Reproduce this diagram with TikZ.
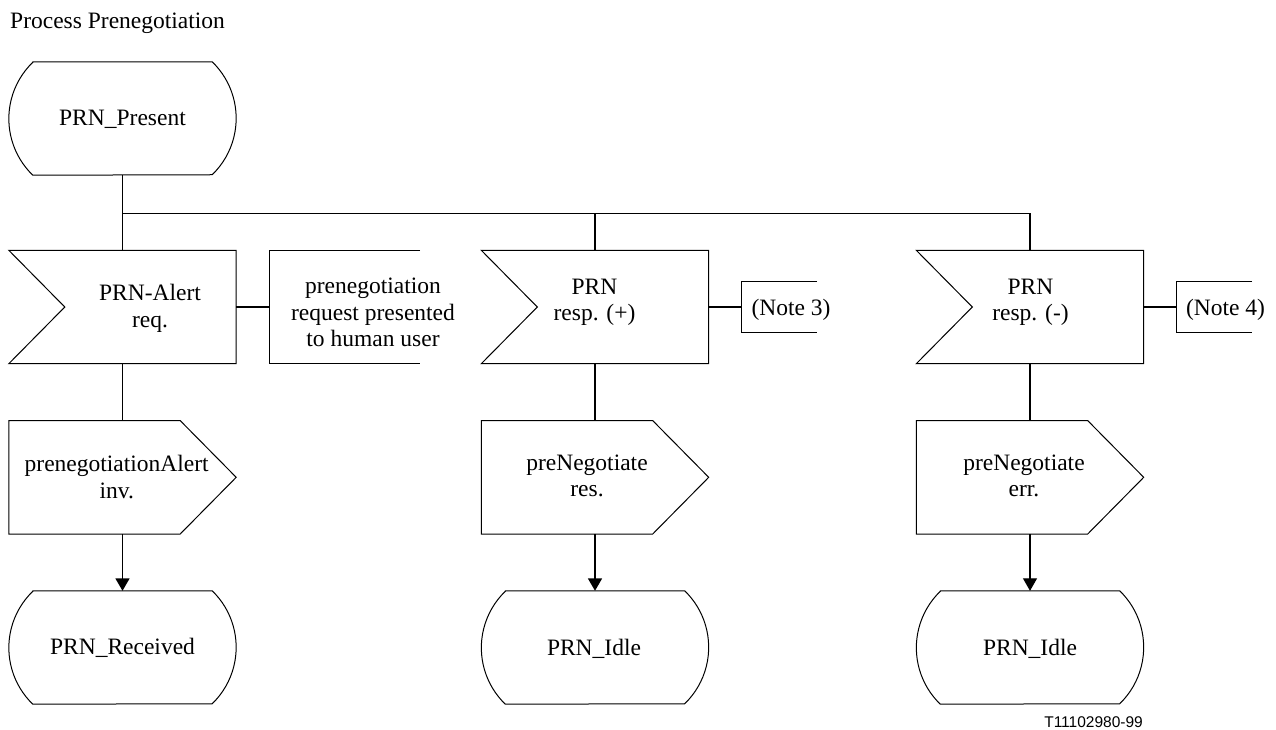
\documentclass[tikz,border=0pt]{standalone}
\usepackage{fontspec}
\setmainfont{Liberation Serif}
\newfontfamily\footsans{Liberation Sans}
\usetikzlibrary{arrows.meta,calc}
\tikzset{
  txt/.style={inner sep=0pt, font=\fontsize{23.5}{26.5}\selectfont, align=center},
  frame/.style={draw=none, inner sep=0pt, minimum width=227pt, minimum height=113pt},
  outline/.style={draw=black, line width=1pt, line join=miter},
  conn/.style={draw=black, line width=1.8pt},
  thinconn/.style={draw=black, line width=1.1pt},
  flow/.style={conn, -{Triangle[length=12.5pt,width=14pt]}},
  thinflow/.style={thinconn, -{Triangle[length=12.5pt,width=14pt]}}
}
\begin{document}
\begin{tikzpicture}[x=1pt,y=1pt]
\useasboundingbox (0,0) rectangle (1276,-729);
\fill[white] (0,0) rectangle (1276,-729);

% title
\node[txt, anchor=base west] (title) at (10,-28.3) {Process Prenegotiation};

% frames (positions of symbols)
\node[frame] (s1) at (122.5,-118.5) {};
\node[frame] (i1) at (122.5,-307) {};
\node[frame] (i2) at (595,-307) {};
\node[frame] (i3) at (1030,-307) {};
\node[frame] (o1) at (122.5,-477.3) {};
\node[frame] (o2) at (595,-477.3) {};
\node[frame] (o3) at (1030,-477.3) {};
\node[frame] (e1) at (122.5,-647.5) {};
\node[frame] (e2) at (595,-647.5) {};
\node[frame] (e3) at (1030,-647.5) {};
\node[draw=none, inner sep=0pt, minimum width=150pt, minimum height=113pt] (c1) at (345,-307) {};
\node[draw=none, inner sep=0pt, minimum width=75pt, minimum height=50pt] (c2) at (779.5,-307) {};
\node[draw=none, inner sep=0pt, minimum width=75pt, minimum height=50pt] (c3) at (1214.5,-307) {};

% state symbols
\foreach \n in {s1,e1,e2,e3}{
  \draw[outline] ($(\n.north west)+(24,0)$) -- ($(\n.north east)+(-24,0)$)
    arc[start angle=46, end angle=-46, radius=78.5pt]
    -- ($(\n.south west)+(24,0)$)
    arc[start angle=226, end angle=134, radius=78.5pt] -- cycle;
}
% input symbols
\foreach \n in {i1,i2,i3}{
  \draw[outline] (\n.north west) -- (\n.north east) -- (\n.south east)
    -- (\n.south west) -- ($(\n.west)+(56,0)$) -- cycle;
}
% output symbols
\foreach \n in {o1,o2,o3}{
  \draw[outline] (\n.north west) -- ($(\n.north east)+(-56,0)$) -- (\n.east)
    -- ($(\n.south east)+(-56,0)$) -- (\n.south west) -- cycle;
}
% comment brackets
\foreach \n in {c1,c2,c3}{
  \draw[outline] (\n.north east) -- (\n.north west) -- (\n.south west) -- (\n.south east);
}

% texts (base anchor = baseline of the last line)
\node[txt, anchor=base] (ts1) at (122.5,-125) {PRN\_Present};
\node[txt, anchor=base] (ti1) at (150,-327) {PRN-Alert\\req.};
\node[txt, anchor=base] (tc1) at (373,-346.5) {prenegotiation\\request presented\\to human user};
\node[txt, anchor=base] (ti2) at (594.5,-320.5) {PRN\\resp. (+)};
\node[txt, anchor=base] (tc2) at (791,-315) {(Note 3)};
\node[txt, anchor=base] (ti3) at (1030.5,-320.5) {PRN\\resp. (-)};
\node[txt, anchor=base] (tc3) at (1225.5,-315) {(Note 4)};
\node[txt, anchor=base] (to1) at (116.7,-498) {prenegotiationAlert\\inv.};
\node[txt, anchor=base] (to2) at (587,-496.5) {preNegotiate\\res.};
\node[txt, anchor=base] (to3) at (1024,-496.5) {preNegotiate\\err.};
\node[txt, anchor=base] (te1) at (122.5,-654) {PRN\_Received};
\node[txt, anchor=base] (te2) at (594,-655) {PRN\_Idle};
\node[txt, anchor=base] (te3) at (1030,-655) {PRN\_Idle};
\node[inner sep=0pt, anchor=base east, font=\footsans\fontsize{15.5}{18}\selectfont] (fig) at (1143,-727.3) {T11102980-99};

% connectors
\coordinate (bus1) at (s1.south |- 0,-213.3);
\coordinate (bus2) at (i2.north |- 0,-213.3);
\coordinate (bus3) at (i3.north |- 0,-213.3);
\draw[conn] (s1.south) -- (i1.north);
\draw[thinconn] (bus1) -- (bus3) -- (i3.north);
\draw[conn] (bus2) -- (i2.north);
\draw[conn] (i1.east) -- (c1.west);
\draw[conn] (i2.east) -- (c2.west);
\draw[conn] (i3.east) -- (c3.west);
\draw[conn] (i1.south) -- (o1.north);
\draw[conn] (i2.south) -- (o2.north);
\draw[thinconn] (i3.south) -- (o3.north);
\draw[flow] (o1.south) -- (e1.north);
\draw[flow] (o2.south) -- (e2.north);
\draw[thinflow] (o3.south) -- (e3.north);
\end{tikzpicture}
\end{document}
